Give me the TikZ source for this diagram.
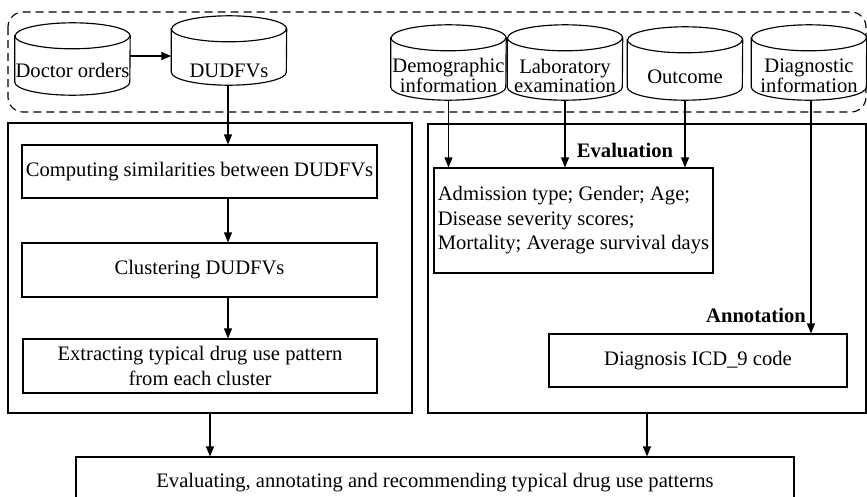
\documentclass[tikz,border=0pt]{standalone}
\usepackage{fontspec}
\setmainfont{Liberation Serif}
\usetikzlibrary{arrows.meta,calc}
\begin{document}
\begin{tikzpicture}[x=1pt,y=-1pt,
  every node/.style={font=\fontsize{20.6}{24}\selectfont},
  ln/.style={line width=1.15pt},
  arr/.style={ln,-{Triangle[length=10pt,width=8pt]}},
  box/.style={draw,ln,inner sep=0pt,align=center},
  cylslot/.style={inner sep=0pt,minimum width=115pt,minimum height=#1},
  cyltext/.style={font=\fontsize{20.6}{17}\selectfont,align=center,inner sep=0pt},
  lbl/.style={font=\fontsize{20.6}{24}\selectfont\bfseries,inner sep=0pt},
]
\useasboundingbox (0,0) rectangle (867,496);
\clip (0,0) rectangle (867,496);

% data sources group
\draw[ln,dash pattern=on 8pt off 5pt,rounded corners=15pt] (8,12) rectangle (866,112);

% cylinder slots
\node[cylslot=72pt] (doc)  at (72.5,59)   {};
\node[cylslot=69pt] (dud)  at (229,50.5)  {};
\node[cylslot=75pt] (demo) at (448.5,62.5) {};
\node[cylslot=75pt] (lab)  at (565,62.5)  {};
\node[cylslot=73pt] (outc) at (685,63.5)  {};
\node[cylslot=75pt] (diag) at (809,62.5)  {};

\foreach \c in {doc,dud,demo,lab,outc,diag}{
  \draw[ln,fill=white] ([yshift=-13pt]\c.north west) -- ([yshift=13pt]\c.south west)
     arc[start angle=180,end angle=360,x radius=57.5pt,y radius=13pt]
     -- ([yshift=-13pt]\c.north east)
     arc[start angle=0,end angle=180,x radius=57.5pt,y radius=13pt] -- cycle;
  \draw[ln] ([yshift=-13pt]\c.north west)
     arc[start angle=180,end angle=360,x radius=57.5pt,y radius=13pt];
}

% cylinder labels
\node[cyltext,anchor=base] (tdoc) at (72.5,77) {Doctor orders};
\node[cyltext,anchor=base] (tdud) at (229,77) {DUDFVs};
\node[cyltext] (tdemo) at (448.5,75.7) {Demographic\\information};
\node[cyltext] (tlab)  at (565,75.7) {Laboratory\\examination};
\node[cyltext,anchor=base] (toutc) at (685,83) {Outcome};
\node[cyltext] (tdiag) at (809,75.7) {Diagnostic\\information};

% panels
\node[box,minimum width=404pt,minimum height=290pt] (lpanel) at (210,268) {};
\node[box,minimum width=438pt,minimum height=289pt] (rpanel) at (647,268.5) {};

% left column steps
\node[box,fill=white,minimum width=355pt,minimum height=53pt] (comp) at (199.5,171.5) {Computing similarities between DUDFVs};
\node[box,fill=white,minimum width=355pt,minimum height=54pt] (clus) at (199.5,270) {Clustering DUDFVs};
\node[box,fill=white,minimum width=354pt,minimum height=54pt,font=\fontsize{20.6}{25}\selectfont] (extr) at (200,366) {Extracting typical drug use pattern\\from each cluster};

% right column
\node[box,minimum width=279pt,minimum height=105pt,align=left,font=\fontsize{20.6}{24.5}\selectfont] (evalbox) at (573.5,220.5)
  {Admission type; Gender; Age;\\Disease severity scores;\\Mortality; Average survival days};
\node[box,minimum width=298pt,minimum height=53pt] (icd) at (698,360.5) {Diagnosis ICD\_9 code};
\node[lbl] (evlabel) at (625,150) {Evaluation};
\node[lbl] (anlabel) at (756,315) {Annotation};

% final step
\node[box,minimum width=718pt,minimum height=51pt] (final) at (435,482.5)
  {Evaluating, annotating and recommending typical drug use patterns};

% connectors
\coordinate (lx) at (228,0);
\draw[arr] ([yshift=3pt]doc.east) -- ([yshift=3pt]doc.east -| dud.west);
\draw[arr] (dud.south -| lx) -- (comp.north -| lx);
\draw[arr] (comp.south -| lx) -- (clus.north -| lx);
\draw[arr] (clus.south -| lx) -- (extr.north -| lx);
\draw[arr] (demo.south) -- (demo.south |- evalbox.north);
\draw[arr] (lab.south) -- (lab.south |- evalbox.north);
\draw[arr] (outc.south) -- (outc.south |- evalbox.north);
\draw[arr] ([xshift=2pt]diag.south) -- ([xshift=2pt]diag.south |- icd.north);
\draw[arr] (lpanel.south) -- (lpanel.south |- final.north);
\draw[arr] (rpanel.south) -- (rpanel.south |- final.north);
\end{tikzpicture}
\end{document}
